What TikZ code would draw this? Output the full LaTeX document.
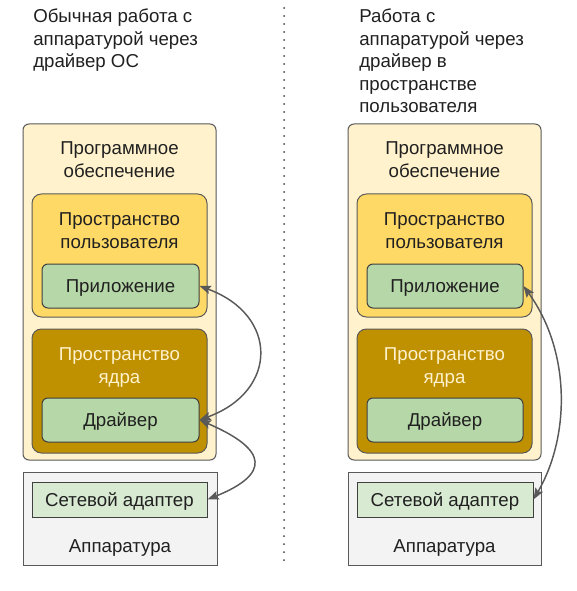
\documentclass[tikz,border=0pt]{standalone}
\usepackage{fontspec}
\setmainfont{Liberation Sans}
\usetikzlibrary{arrows.meta}
\definecolor{swfill}{HTML}{FFF2CC}
\definecolor{usfill}{HTML}{FFD966}
\definecolor{ksfill}{HTML}{BF9000}
\definecolor{kstext}{HTML}{FFF2CC}
\definecolor{appfill}{HTML}{B6D7A8}
\definecolor{netfill}{HTML}{D9EAD3}
\definecolor{hwfill}{HTML}{F3F3F3}
\definecolor{edge}{HTML}{595959}
\definecolor{darkedge}{HTML}{3F3F3F}
\definecolor{txt}{HTML}{202020}
\begin{document}
\begin{tikzpicture}[x=0.75pt,y=0.75pt,
  every node/.style={font=\fontsize{14pt}{16.8pt}\selectfont, text=txt},
  sz/.style 2 args={minimum width=#1*0.75pt, minimum height=#2*0.75pt},
  swbox/.style={draw=edge, fill=swfill, line width=0.75pt, inner sep=0pt, rounded corners=4.5pt},
  usbox/.style={draw=edge, fill=usfill, line width=0.75pt, inner sep=0pt, rounded corners=7pt},
  ksbox/.style={draw=edge, fill=ksfill, line width=0.75pt, inner sep=0pt, rounded corners=7pt},
  hwbox/.style={draw=edge, fill=hwfill, line width=0.75pt, inner sep=0pt},
  leaf/.style={draw=darkedge, line width=0.75pt, inner sep=0pt, text height=10pt, text depth=0pt},
  appbox/.style={leaf, fill=appfill, rounded corners=4.5pt},
  netbox/.style={leaf, fill=netfill},
  ttl/.style={anchor=base, align=center, inner sep=0pt},
  head/.style={anchor=base west, align=left, inner sep=0pt},
  conn/.style={draw=edge, line width=1.1pt, {Stealth[length=8.5pt,width=6.5pt,inset=1.5pt]}-{Stealth[length=8.5pt,width=6.5pt,inset=1.5pt]}},
  dots/.style={draw=darkedge, line width=1.5pt, line cap=round, dash pattern=on 0pt off 6pt}
]
\useasboundingbox (0,0) rectangle (576,-591);

% headings (anchor = baseline of the last line)
\node[head] (title1) at (33,-67.8) {Обычная работа с\\аппаратурой через\\драйвер ОС};
\node[head] (title2) at (359,-112.6) {Работа с\\аппаратурой через\\драйвер в\\пространстве\\пользователя};

% separator
\coordinate (dtop) at (284,-8);
\coordinate (dbot) at (284,-566);
\draw[dots] (dtop) -- (dbot);

% left panel
\node[swbox, sz={193}{336}] (sw1) at (119.5,-292) {};
\node[usbox, sz={175}{123}] (us1) at (119.5,-255.5) {};
\node[appbox, sz={157}{44}] (app1) at (120.5,-286) {Приложение};
\node[ksbox, sz={175}{124}] (ks1) at (119.5,-391) {};
\node[appbox, sz={157}{44}] (drv1) at (120.5,-420) {Драйвер};
\node[hwbox, sz={194}{93}] (hw1) at (120,-518.5) {};
\node[netbox, sz={175}{35}] (net1) at (119.5,-499.5) {Сетевой адаптер};
\node[ttl] (swt1) at (119.5,-177.4) {Программное\\обеспечение};
\node[ttl] (ust1) at (119.5,-248.4) {Пространство\\пользователя};
\node[ttl, text=kstext] (kst1) at (119.5,-383.1) {Пространство\\ядра};
\node[ttl] (hwt1) at (120,-552.7) {Аппаратура};

% right panel
\node[swbox, sz={193}{336}] (sw2) at (444.5,-292) {};
\node[usbox, sz={175}{123}] (us2) at (444.5,-255.5) {};
\node[appbox, sz={156}{44}] (app2) at (445,-286) {Приложение};
\node[ksbox, sz={175}{124}] (ks2) at (444.5,-391) {};
\node[appbox, sz={156}{44}] (drv2) at (445,-420) {Драйвер};
\node[hwbox, sz={193}{93}] (hw2) at (444.5,-518.5) {};
\node[netbox, sz={176}{35}] (net2) at (445,-499.5) {Сетевой адаптер};
\node[ttl] (swt2) at (444.5,-177.4) {Программное\\обеспечение};
\node[ttl] (ust2) at (444.5,-248.4) {Пространство\\пользователя};
\node[ttl, text=kstext] (kst2) at (444.5,-383.1) {Пространство\\ядра};
\node[ttl] (hwt2) at (444.5,-552.7) {Аппаратура};

% connectors
\draw[conn] (app1.east) .. controls +(79,-29) and +(79,29) .. (drv1.east);
\draw[conn] (drv1.east) .. controls +(70,-30) and +(62,25) .. (net1.east);
\draw[conn] (app2.east) .. controls +(47,-65) and +(37,64) .. (net2.east);
\end{tikzpicture}
\end{document}
